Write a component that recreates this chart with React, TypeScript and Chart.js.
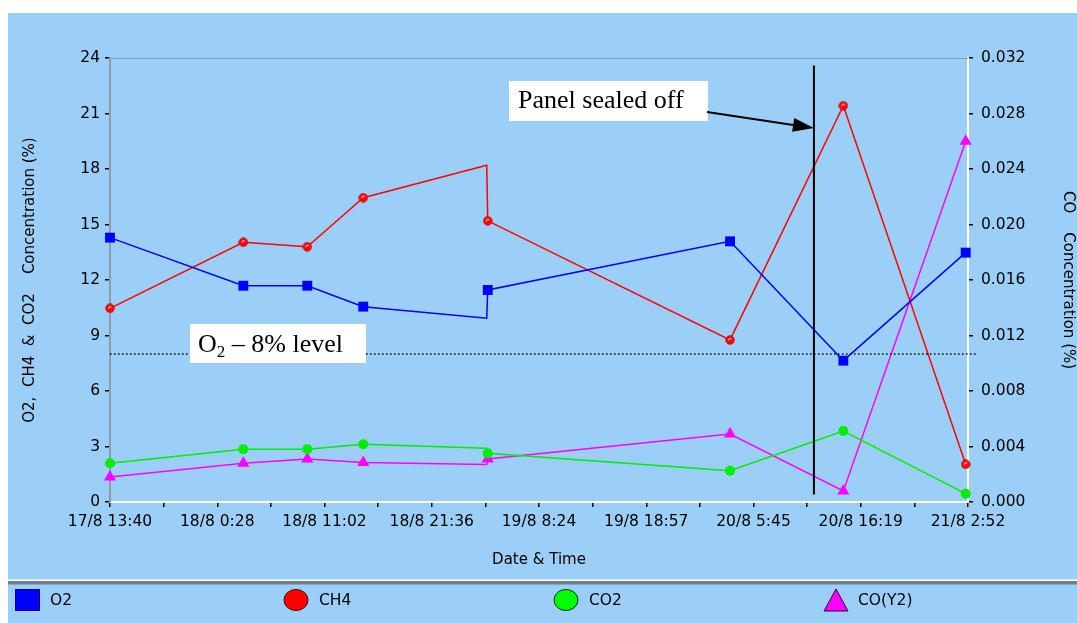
import React, { useEffect, useRef } from 'react';
import { Chart, registerables } from 'chart.js';

Chart.register(...registerables);

// Sample times in hours after 17/8 13:40 (two readings logged almost together near 19/8 3:00)
const sampleHours = [0, 13.24, 19.59, 25.15, 37.41, 37.51, 61.57, 72.82, 84.97];
// Whether a marker is drawn for the sample (the first of the paired readings has none)
const sampleMarked = [true, true, true, true, false, true, true, true, true];

// Gas concentrations (%)
const o2Values = [14.29, 11.69, 11.69, 10.56, 9.93, 11.46, 14.09, 7.64, 13.48];
const ch4Values = [10.47, 14.04, 13.8, 16.45, 18.2, 15.2, 8.76, 21.42, 2.04];
const co2Values = [2.09, 2.85, 2.85, 3.12, 2.9, 2.63, 1.69, 3.84, 0.45];
const coValues = [0.0018, 0.0028, 0.0031, 0.00285, 0.0027, 0.0031, 0.0049, 0.0008, 0.026];

// Date/time axis: labelled ticks, with an unlabelled tick between each pair
const timeTickLabels = [
  '17/8 13:40', '18/8 0:28', '18/8 11:02', '18/8 21:36', '19/8 8:24',
  '19/8 18:57', '20/8 5:45', '20/8 16:19', '21/8 2:52',
];
const timeAxisEndHours = 85.2;

// Left (O2, CH4, CO2) and right (CO) axis ticks
const leftTicks = [0, 3, 6, 9, 12, 15, 18, 21, 24];
const rightTicks = [0, 0.004, 0.008, 0.012, 0.016, 0.02, 0.024, 0.028, 0.032];

// Reference levels
const o2Level = 8;
const sealHour = 69.9;
const sealLineTop = 23.6;
const sealLineBottom = 0.4;

const legendNames = ['O2', 'CH4', 'CO2', 'CO(Y2)'];

const FONT = "'DejaVu Sans', 'Liberation Sans', Arial, sans-serif";
const SERIF = "'Liberation Serif', 'Times New Roman', serif";
const BG = '#9ccff8';

function makeBall(): HTMLCanvasElement {
  const c = document.createElement('canvas');
  c.width = 10;
  c.height = 10;
  const g = c.getContext('2d')!;
  g.beginPath();
  g.arc(5, 5, 4.2, 0, Math.PI * 2);
  g.fillStyle = '#ff0000';
  g.fill();
  g.lineWidth = 1;
  g.strokeStyle = '#d80000';
  g.stroke();
  g.beginPath();
  g.arc(5.2, 5.2, 1.7, Math.PI * 0.95, Math.PI * 1.85);
  g.strokeStyle = '#ffffff';
  g.lineWidth = 1;
  g.stroke();
  return c;
}

const decorPlugin = {
  id: 'decor',
  afterDatasetsDraw(chart: any) {
    const { ctx, chartArea, scales } = chart;
    const x = scales.x;
    const y = scales.y;
    ctx.save();

    // top frame line
    ctx.strokeStyle = '#8d9cab';
    ctx.lineWidth = 1;
    ctx.beginPath();
    ctx.moveTo(chartArea.left, chartArea.top + 0.5);
    ctx.lineTo(chartArea.right, chartArea.top + 0.5);
    ctx.stroke();

    // O2 8% level (dotted)
    const ly = y.getPixelForValue(o2Level);
    ctx.strokeStyle = '#000';
    ctx.lineWidth = 1.5;
    ctx.setLineDash([1.5, 2.5]);
    ctx.beginPath();
    ctx.moveTo(chartArea.left, ly);
    ctx.lineTo(chartArea.right + 9, ly);
    ctx.stroke();
    ctx.setLineDash([]);

    // O2 level label
    ctx.fillStyle = '#fff';
    ctx.fillRect(182, 311, 176, 39);
    ctx.fillStyle = '#000';
    ctx.textBaseline = 'alphabetic';
    ctx.textAlign = 'left';
    ctx.font = `26px ${SERIF}`;
    ctx.fillText('O', 190, 339);
    const ow = ctx.measureText('O').width;
    ctx.font = `17px ${SERIF}`;
    ctx.fillText('2', 190 + ow, 344);
    const tw = ctx.measureText('2').width;
    ctx.font = `26px ${SERIF}`;
    ctx.fillText(' \u2013 8% level', 190 + ow + tw, 339);

    // panel sealed off marker
    const sx = x.getPixelForValue(sealHour);
    ctx.strokeStyle = '#000';
    ctx.lineWidth = 2;
    ctx.beginPath();
    ctx.moveTo(sx, y.getPixelForValue(sealLineTop));
    ctx.lineTo(sx, y.getPixelForValue(sealLineBottom));
    ctx.stroke();

    ctx.fillStyle = '#fff';
    ctx.fillRect(501, 68, 199, 40);
    ctx.fillStyle = '#000';
    ctx.font = `26px ${SERIF}`;
    ctx.fillText('Panel sealed off', 510, 95);

    // arrow to the seal line
    const ax0 = 699, ay0 = 99;
    const ax1 = sx, ay1 = 115;
    const ang = Math.atan2(ay1 - ay0, ax1 - ax0);
    const hl = 21, hw = 7;
    const bx = ax1 - hl * Math.cos(ang);
    const by = ay1 - hl * Math.sin(ang);
    ctx.lineWidth = 2;
    ctx.beginPath();
    ctx.moveTo(ax0, ay0);
    ctx.lineTo(bx, by);
    ctx.stroke();
    ctx.beginPath();
    ctx.moveTo(ax1, ay1);
    ctx.lineTo(bx + hw * Math.sin(ang), by - hw * Math.cos(ang));
    ctx.lineTo(bx - hw * Math.sin(ang), by + hw * Math.cos(ang));
    ctx.closePath();
    ctx.fill();

    ctx.restore();
  },
  afterDraw(chart: any) {
    const { ctx, chartArea, width } = chart;
    ctx.save();
    ctx.fillStyle = '#000';
    ctx.font = `15px ${FONT}`;
    ctx.textAlign = 'center';
    ctx.textBaseline = 'middle';
    const midY = (chartArea.top + chartArea.bottom) / 2;

    // axis titles
    ctx.fillText('Date & Time', (chartArea.left + chartArea.right) / 2, 547);

    ctx.save();
    ctx.translate(22, midY);
    ctx.rotate(-Math.PI / 2);
    ctx.fillText('O2,  CH4  &  CO2    Concentration (%)', 0, 0);
    ctx.restore();

    ctx.save();
    ctx.translate(1060, midY);
    ctx.rotate(Math.PI / 2);
    ctx.fillText('CO    Concentration (%)', 0, 0);
    ctx.restore();

    // legend band separator
    ctx.fillStyle = '#ffffff';
    ctx.fillRect(0, 566.5, width, 1.5);
    ctx.fillStyle = '#6f7f8c';
    ctx.fillRect(0, 568, width, 3.5);

    // legend entries
    const ly = 587;
    ctx.lineWidth = 1;
    ctx.strokeStyle = '#000';
    ctx.fillStyle = '#0000ff';
    ctx.fillRect(7, 576, 25, 22);
    ctx.strokeStyle = '#00006a';
    ctx.strokeRect(7.5, 576.5, 24, 21);

    ctx.beginPath();
    ctx.ellipse(288, ly, 12, 10.5, 0, 0, Math.PI * 2);
    ctx.fillStyle = '#ff0000';
    ctx.fill();
    ctx.strokeStyle = '#400000';
    ctx.stroke();

    ctx.beginPath();
    ctx.ellipse(558, ly, 12, 10.5, 0, 0, Math.PI * 2);
    ctx.fillStyle = '#00ff00';
    ctx.fill();
    ctx.strokeStyle = '#003000';
    ctx.stroke();

    ctx.beginPath();
    ctx.moveTo(828, 576);
    ctx.lineTo(840, 598);
    ctx.lineTo(816, 598);
    ctx.closePath();
    ctx.fillStyle = '#ff00ff';
    ctx.fill();
    ctx.strokeStyle = '#300030';
    ctx.stroke();

    ctx.fillStyle = '#000';
    ctx.textAlign = 'left';
    ctx.font = `15.5px ${FONT}`;
    ctx.fillText(legendNames[0], 42, ly + 1);
    ctx.fillText(legendNames[1], 311, ly + 1);
    ctx.fillText(legendNames[2], 581, ly + 1);
    ctx.fillText(legendNames[3], 850, ly + 1);
    ctx.restore();
  },
};

export default function App() {
  const canvasRef = useRef<HTMLCanvasElement | null>(null);

  useEffect(() => {
    const canvas = canvasRef.current;
    if (!canvas) return;
    const ball = makeBall();
    const radii = (r: number) => sampleMarked.map((m) => (m ? r : 0));
    const pts = (vals: number[]) => sampleHours.map((h, i) => ({ x: h, y: vals[i] }));

    const tickFont = { family: FONT, size: 15.5 };
    const tickGrid = {
      display: true,
      drawOnChartArea: false,
      drawTicks: true,
      tickLength: 5,
      color: '#000',
      lineWidth: 1.5,
    };

    const chart = new Chart(canvas, {
      type: 'line',
      data: {
        datasets: [
          {
            label: legendNames[0],
            data: pts(o2Values),
            borderColor: '#0000ff',
            backgroundColor: '#0000ff',
            borderWidth: 1.5,
            pointStyle: 'rect',
            pointRadius: radii(7),
            pointBorderWidth: 0,
            yAxisID: 'y',
            clip: false,
          },
          {
            label: legendNames[1],
            data: pts(ch4Values),
            borderColor: '#ff0000',
            backgroundColor: '#ff0000',
            borderWidth: 1.5,
            pointStyle: ball,
            pointRadius: radii(4),
            yAxisID: 'y',
            clip: false,
          },
          {
            label: legendNames[2],
            data: pts(co2Values),
            borderColor: '#00ee00',
            backgroundColor: '#00ee00',
            borderWidth: 1.5,
            pointStyle: 'circle',
            pointRadius: radii(5),
            pointBorderWidth: 0,
            yAxisID: 'y',
            clip: false,
          },
          {
            label: legendNames[3],
            data: pts(coValues),
            borderColor: '#ff00ff',
            backgroundColor: '#ff00ff',
            borderWidth: 1.5,
            pointStyle: 'triangle',
            pointRadius: radii(7),
            pointBorderWidth: 0,
            yAxisID: 'y2',
            clip: false,
          },
        ],
      },
      options: {
        responsive: false,
        animation: false,
        events: [],
        layout: { padding: { top: 45, left: 0, right: 0, bottom: 0 } },
        plugins: {
          legend: { display: false },
          tooltip: { enabled: false },
        },
        scales: {
          x: {
            type: 'linear',
            min: 0,
            max: timeAxisEndHours,
            afterBuildTicks: (scale: any) => {
              const n = (timeTickLabels.length - 1) * 2;
              scale.ticks = Array.from({ length: n + 1 }, (_, i) => ({
                value: (timeAxisEndHours * i) / n,
              }));
            },
            afterFit: (scale: any) => {
              scale.height = 121;
            },
            ticks: {
              autoSkip: false,
              maxRotation: 0,
              padding: 6,
              color: '#000',
              font: tickFont,
              callback: (_v: any, i: number) => (i % 2 === 0 ? timeTickLabels[i / 2] : ''),
            },
            grid: tickGrid,
            border: { display: true, color: '#ffffff', width: 2 },
          },
          y: {
            type: 'linear',
            position: 'left',
            min: 0,
            max: 24,
            afterBuildTicks: (scale: any) => {
              scale.ticks = leftTicks.map((v) => ({ value: v }));
            },
            afterFit: (scale: any) => {
              scale.width = 102;
            },
            ticks: { padding: 5, color: '#000', font: tickFont },
            grid: tickGrid,
            border: { display: true, color: '#8d9cab', width: 2 },
          },
          y2: {
            type: 'linear',
            position: 'right',
            min: 0,
            max: 0.032,
            afterBuildTicks: (scale: any) => {
              scale.ticks = rightTicks.map((v) => ({ value: v }));
            },
            afterFit: (scale: any) => {
              scale.width = 109;
            },
            ticks: {
              padding: 8,
              color: '#000',
              font: tickFont,
              callback: (v: any) => Number(v).toFixed(3),
            },
            grid: tickGrid,
            border: { display: true, color: '#ffffff', width: 2 },
          },
        },
      },
      plugins: [decorPlugin],
    } as any);

    return () => chart.destroy();
  }, []);

  return (
    <div
      style={{
        position: 'fixed',
        left: 8,
        top: 13,
        width: 1069,
        height: 610,
        background: BG,
        overflow: 'hidden',
      }}
    >
      <canvas ref={canvasRef} width={1069} height={610} style={{ display: 'block' }} />
    </div>
  );
}
